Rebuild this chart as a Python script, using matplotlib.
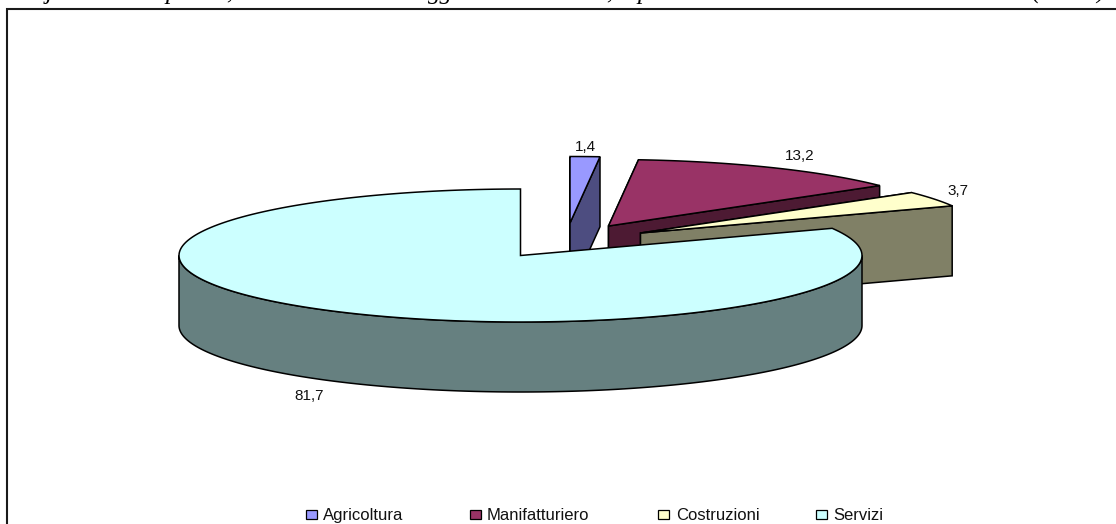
import numpy as np
import matplotlib
matplotlib.use("Agg")
import matplotlib.pyplot as plt
from matplotlib.patches import Rectangle

categories = ["Agricoltura", "Manifatturiero", "Costruzioni", "Servizi"]
values = [1.4, 13.2, 3.7, 81.7]
top_colors = ["#9999FF", "#993366", "#FFFFCC", "#CCFFFF"]
side_colors = ["#4D4D80", "#4D1A33", "#808066", "#668080"]

# the title is cut by the top edge, only the descenders are left
title_bits = ["j", "p", ",", "gg", ",", "p", "(", ")"]
title_x = [46, 165, 226, 428, 606, 637, 1031, 1096]

# pie geometry in pixels
cx, cy = 520.5, 255.5
rx, ry = 341.5, 66.5
depth = 70
explode = [(49.5, -32.5), (88, -29.5), (120, -22.5), (0, 0)]
label_pos = [(585, 147), (800, 156), (958, 191), (309, 396)]
legend_x = [306, 470, 658, 816]
legend_text_x = [323, 487, 676, 833]


def arc(ox, oy, a0, a1, n=200):
    # angles in degrees, clockwise from 12 o'clock
    t = np.radians(np.linspace(a0, a1, n))
    return ox + rx * np.sin(t), oy - ry * np.cos(t)


plt.rcParams["font.family"] = ["Liberation Sans", "DejaVu Sans"]
fig = plt.figure(figsize=(11.16, 5.24), dpi=100)
ax = fig.add_axes([0, 0, 1, 1])
ax.set_xlim(0, 1116)
ax.set_ylim(524, 0)
ax.axis("off")

# chart frame, runs off the right and bottom edges
ax.plot([7, 7, 1130], [540, 9, 9], color="#1a1a1a", lw=1.5, solid_joinstyle="miter")

for s, x in zip(title_bits, title_x):
    ax.text(x, -1.5, s, family="Liberation Serif", style="italic", fontsize=18,
            ha="left", va="baseline", color="black")

edges = np.concatenate([[0], np.cumsum(values)]) / np.sum(values) * 360
lw = 1.1

for i in range(len(values)):
    a0, a1 = edges[i], edges[i + 1]
    ox, oy = cx + explode[i][0], cy + explode[i][1]
    top_x, top_y = arc(ox, oy, a0, a1)

    if i < 3:
        # cut faces on both straight edges of the slice
        ax.fill([ox, ox, top_x[0], top_x[0]], [oy, oy + depth, top_y[0] + depth, top_y[0]],
                facecolor=side_colors[i], edgecolor="black", lw=lw, zorder=2 + i)
        ax.fill([ox, ox, top_x[-1], top_x[-1]], [oy, oy + depth, top_y[-1] + depth, top_y[-1]],
                facecolor=side_colors[i], edgecolor="black", lw=lw, zorder=2 + i)
    else:
        # outer wall of the big slice, front half of the ellipse only
        wall_x, wall_y = arc(ox, oy, 90, 270)
        ax.fill(np.r_[wall_x, wall_x[::-1]], np.r_[wall_y, wall_y[::-1] + depth],
                facecolor=side_colors[i], edgecolor="black", lw=lw, zorder=2 + i)

    ax.fill(np.r_[ox, top_x], np.r_[oy, top_y], facecolor=top_colors[i],
            edgecolor="black", lw=lw, zorder=2 + i)

    ax.text(label_pos[i][0], label_pos[i][1], f"{values[i]:.1f}".replace(".", ","),
            fontsize=11, ha="center", va="center", color="#111111", zorder=10)

    ax.add_patch(Rectangle((legend_x[i], 510), 10.5, 9, facecolor=top_colors[i],
                           edgecolor="black", lw=0.9, zorder=10))
    ax.text(legend_text_x[i], 520, categories[i], fontsize=12, ha="left",
            va="baseline", color="#111111", zorder=10)

fig.savefig("out.png", dpi=100)
